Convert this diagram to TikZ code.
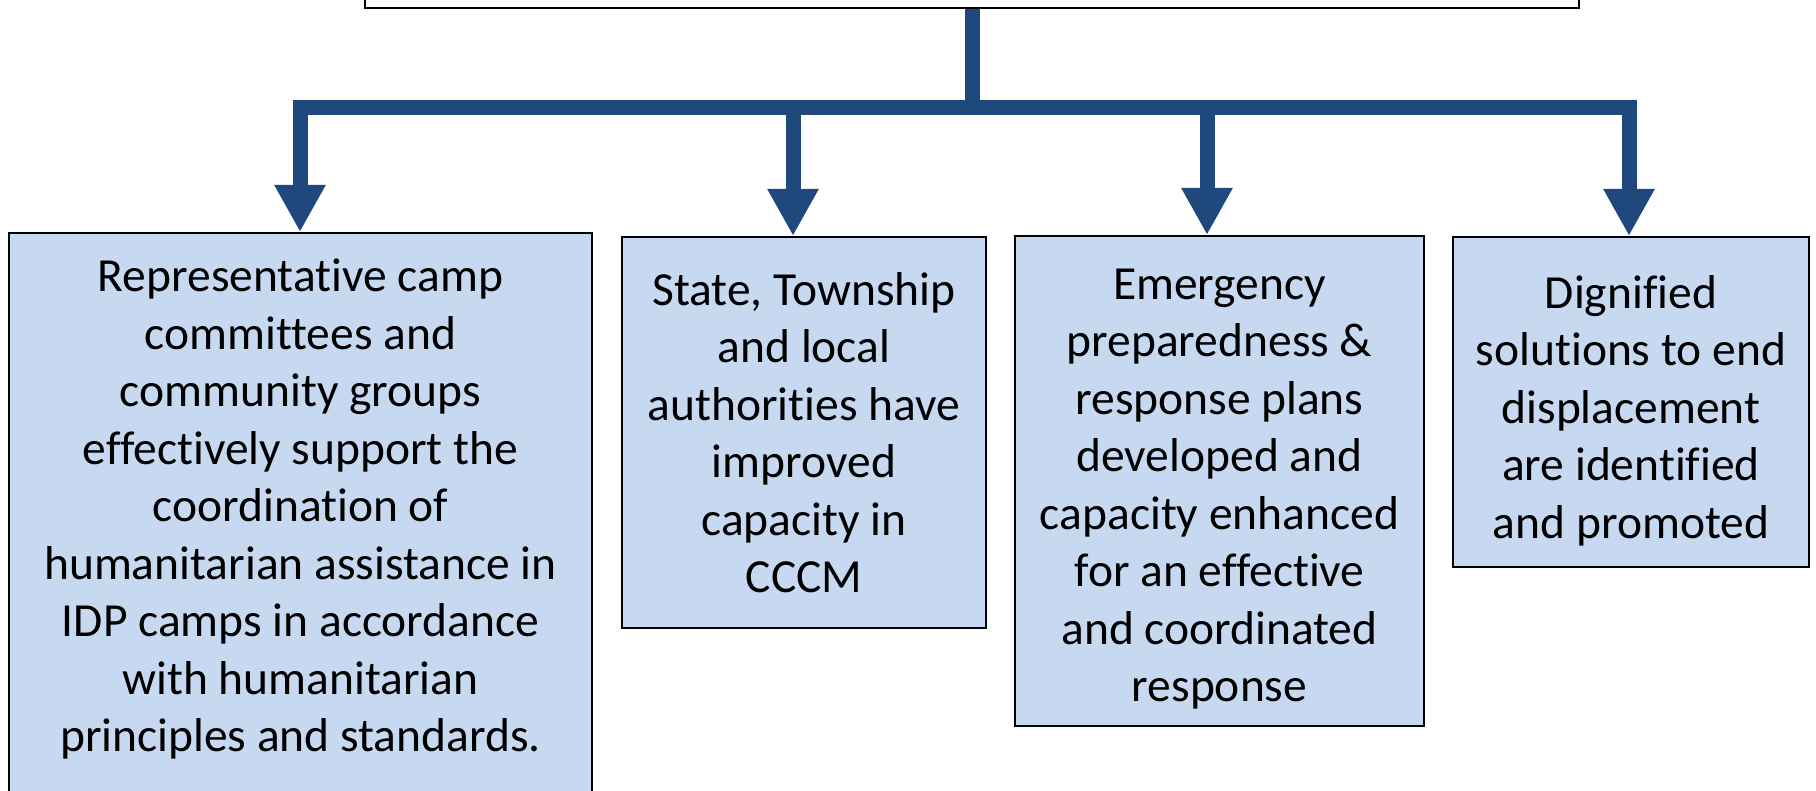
\documentclass[tikz,border=0pt]{standalone}
\usepackage{fontspec}
\setmainfont[Ligatures=NoCommon]{Carlito}
\usetikzlibrary{arrows.meta}
\definecolor{arrowblue}{HTML}{1F497D}
\definecolor{boxblue}{HTML}{C6D9F1}
\begin{document}
\begin{tikzpicture}[x=1pt,y=-1pt,
  outbox/.style={draw=black, line width=2pt, fill=boxblue, align=center, inner sep=0pt,
    font=\fontsize{47.5}{57.5}\selectfont},
  conn/.style={draw=arrowblue, line width=15pt},
  arr/.style={conn, -{Triangle[width=48pt,length=47pt]}}]
\useasboundingbox (0,0) rectangle (1816,791);
\node[draw=black, line width=2pt, fill=white, minimum width=1214pt, minimum height=60pt, inner sep=0pt] (top) at (972,-22) {};
\node[outbox, minimum width=583pt, minimum height=567pt] (b1) at (300.5,516.5)
  {Representative camp\\committees and\\community groups\\effectively support the\\coordination of\\humanitarian assistance in\\IDP camps in accordance\\with humanitarian\\principles and standards.\rule[-22pt]{0pt}{0pt}};
\node[outbox, minimum width=364pt, minimum height=391pt] (b2) at (804,432.5)
  {State, Township\\and local\\authorities have\\improved\\capacity in\\CCCM};
\node[outbox, minimum width=409pt, minimum height=490pt] (b3) at (1219.5,481)
  {\rule{0pt}{47pt}Emergency\\preparedness \&\\response plans\\developed and\\capacity enhanced\\for an effective\\and coordinated\\response};
\node[outbox, minimum width=356pt, minimum height=330pt] (b4) at (1631,402)
  {\rule{0pt}{50pt}Dignified\\solutions to end\\displacement\\are identified\\and promoted};
\coordinate (j1) at (300,108);
\coordinate (j2) at (793,108);
\coordinate (j3) at (1207,108);
\coordinate (j4) at (1629,108);
\draw[conn] (top.south) -- (top.south |- j1);
\draw[conn, line cap=rect] (j1) -- (j4);
\draw[arr] (j1) -- (j1 |- b1.north);
\draw[arr] (j2) -- (j2 |- b2.north);
\draw[arr] (j3) -- (j3 |- b3.north);
\draw[arr] (j4) -- (j4 |- b4.north);
\end{tikzpicture}
\end{document}
